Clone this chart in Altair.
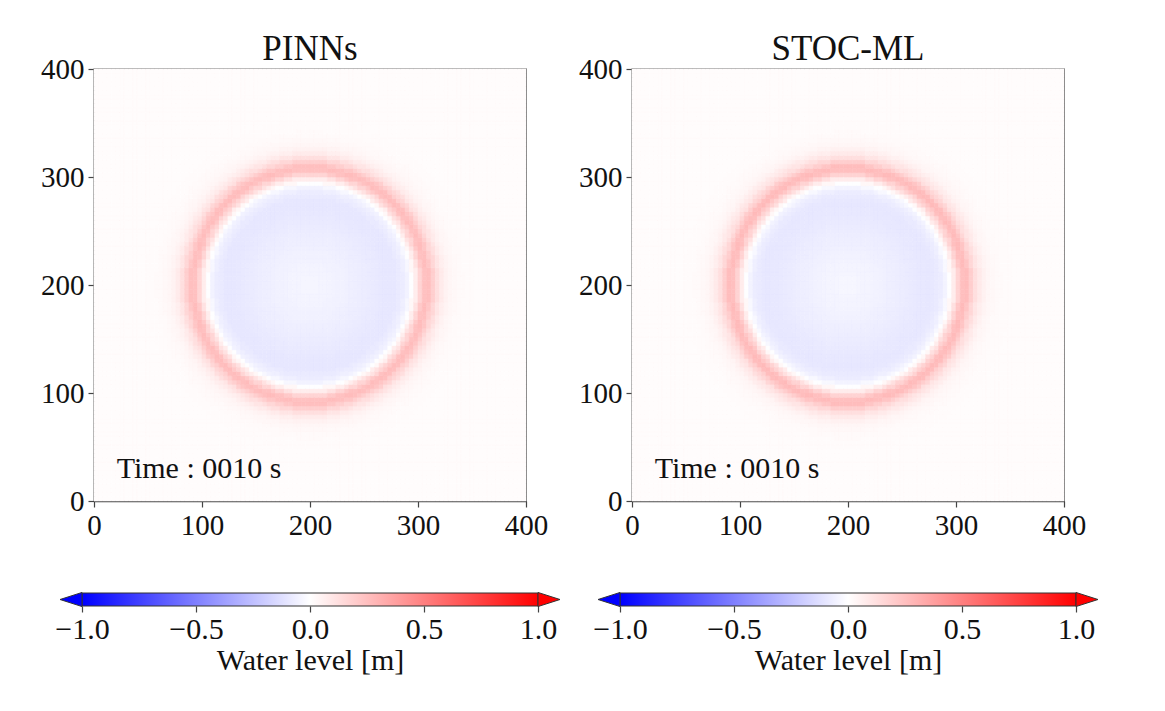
import altair as alt
import numpy as np
import pandas as pd

# ---- values ----
panel_titles = ["PINNs", "STOC-ML"]
time_label = "Time : 0010 s"
axis_ticks = [0, 100, 200, 300, 400]
cbar_ticks = [-1.0, -0.5, 0.0, 0.5, 1.0]
cbar_title = "Water level [m]"

# water level [m] against radius from the centre (200, 200)
radii = [0, 4, 8, 12, 16, 20, 24, 28, 32, 36, 40, 44, 48, 52, 56, 60, 64, 68, 72, 76,
         80, 84, 86, 88, 90, 92, 94, 96, 98, 100, 102, 104, 106, 108, 110, 112, 114,
         116, 118, 120, 122, 124, 126, 128, 130, 132, 134, 136, 138, 140, 145, 150,
         155, 160]
pinns_profile = [-0.040, -0.040, -0.041, -0.043, -0.045, -0.048, -0.050, -0.053,
                 -0.056, -0.059, -0.063, -0.067, -0.071, -0.075, -0.079, -0.083,
                 -0.087, -0.091, -0.094, -0.095, -0.093, -0.084, -0.076, -0.064,
                 -0.050, -0.030, -0.005, 0.030, 0.070, 0.115, 0.165, 0.210, 0.245,
                 0.262, 0.250, 0.222, 0.188, 0.155, 0.125, 0.100, 0.080, 0.064,
                 0.052, 0.042, 0.035, 0.030, 0.026, 0.023, 0.021, 0.019, 0.016,
                 0.014, 0.013, 0.012]
stoc_profile = [-0.036, -0.036, -0.037, -0.039, -0.042, -0.045, -0.048, -0.051,
                -0.054, -0.057, -0.061, -0.065, -0.069, -0.073, -0.077, -0.081,
                -0.085, -0.089, -0.092, -0.093, -0.091, -0.082, -0.074, -0.062,
                -0.048, -0.028, -0.003, 0.033, 0.075, 0.122, 0.172, 0.218, 0.252,
                0.270, 0.258, 0.228, 0.192, 0.158, 0.127, 0.101, 0.081, 0.065,
                0.053, 0.043, 0.036, 0.030, 0.026, 0.023, 0.021, 0.019, 0.016,
                0.014, 0.013, 0.012]
background_level = 0.012
centre = (200, 200)
cell = 4

FONT = "Liberation Serif"
color_scale = alt.Scale(domain=[-1, 0, 1], range=["#0000ff", "#ffffff", "#ff0000"],
                        interpolate="rgb")


def field(profile):
    rows = []
    rad = np.array(radii, dtype=float)
    starts = range(0, 400, cell)
    for x0 in starts:
        for y0 in starts:
            r = np.hypot(x0 + cell / 2 - centre[0], y0 + cell / 2 - centre[1])
            if r > rad[-1] + 2.5:
                v = background_level
            else:
                v = profile[int(np.argmin(np.abs(rad - r)))]
            rows.append((x0, x0 + cell, y0, y0 + cell, v))
    return pd.DataFrame(rows, columns=["x", "x2", "y", "y2", "h"])


def panel(title, profile):
    df = field(profile)
    sc = alt.Scale(domain=[0, 400], nice=False, zero=False)
    heat = alt.Chart(df).mark_rect(strokeWidth=0.6).encode(
        x=alt.X("x:Q", scale=sc, axis=alt.Axis(values=axis_ticks, title=None, labelFlush=False)),
        x2="x2:Q",
        y=alt.Y("y:Q", scale=sc, axis=alt.Axis(values=axis_ticks, title=None, labelFlush=False)),
        y2="y2:Q",
        color=alt.Color("h:Q", scale=color_scale, legend=None),
        stroke=alt.Stroke("h:Q", scale=color_scale, legend=None),
    )
    txt = alt.Chart(pd.DataFrame({"label": [time_label], "x": [21], "y": [21]})).mark_text(
        align="left", baseline="alphabetic", font=FONT, fontSize=30, color="#111"
    ).encode(x="x:Q", y="y:Q", text="label:N")
    top = alt.layer(heat, txt).properties(
        width=432, height=432,
        title=alt.TitleParams(title, font=FONT, fontSize=35, fontWeight="normal",
                              color="#111", frame="group", anchor="middle",
                              offset=-12),
        view=alt.ViewBackground(stroke="#444", strokeWidth=1.3),
    )

    cb = pd.DataFrame({"lo": [cbar_ticks[0]], "hi": [cbar_ticks[-1]]})
    grad = alt.LinearGradient(
        gradient="linear", x1=0, x2=1, y1=0, y2=0,
        stops=[alt.GradientStop(color="#0000ff", offset=0),
               alt.GradientStop(color="#ffffff", offset=0.5),
               alt.GradientStop(color="#ff0000", offset=1)])
    cscale = alt.Scale(domain=[-1, 1], nice=False, zero=False)
    bar = alt.Chart(cb).mark_rect(fill=grad, stroke="#333", strokeWidth=1).encode(
        x=alt.X("lo:Q", scale=cscale,
                axis=alt.Axis(values=cbar_ticks, format=".1f", title=cbar_title,
                              labelFontSize=30, titleFontSize=30, titleFont=FONT,
                              titleFontWeight="normal", titleColor="#111",
                              domain=False, labelPadding=2, titlePadding=1,
                              labelFlush=False)),
        x2="hi:Q",
        y=alt.value(0), y2=alt.value(13),
    )
    arrows = pd.DataFrame({"v": [-1.0, 1.0], "side": ["lo", "hi"]})
    tri = alt.Chart(arrows).mark_point(
        filled=True, size=1936, opacity=1, stroke="#333", strokeWidth=1
    ).encode(
        x=alt.X("v:Q", scale=cscale),
        y=alt.value(6.5),
        color=alt.Color("v:Q", scale=color_scale, legend=None),
        shape=alt.Shape("side:N", scale=alt.Scale(
            domain=["lo", "hi"],
            range=["M 0 -0.32 L -1 0 L 0 0.32 Z", "M 0 -0.32 L 1 0 L 0 0.32 Z"]),
            legend=None),
    )
    bottom = alt.layer(bar, tri).properties(
        width=456, height=13,
        view=alt.ViewBackground(strokeOpacity=0),
    )
    return alt.vconcat(top, bottom, spacing=92, bounds="flush", center=True)


chart = alt.hconcat(
    panel(panel_titles[0], pinns_profile),
    panel(panel_titles[1], stoc_profile),
    spacing=15,
).properties(
    padding={"left": 31, "top": 23, "right": 5, "bottom": 5},
    background="white",
).configure_axis(
    labelFont=FONT, labelFontSize=29, labelColor="#111", grid=False,
    tickColor="#444", domainColor="#444", tickSize=6, tickWidth=1.2,
    domainWidth=1.3, labelPadding=4,
).configure_view(stroke="#444")

chart.save("out.html", embed_options={"renderer": "svg", "actions": False})
